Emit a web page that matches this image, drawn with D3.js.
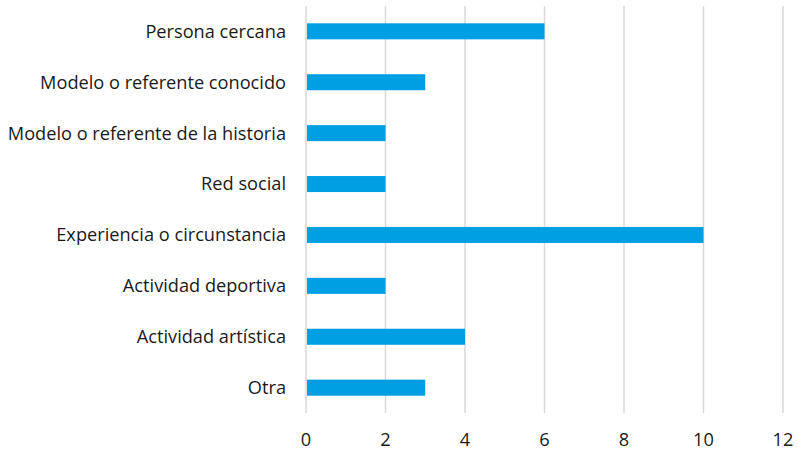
<!DOCTYPE html>
<html><head><meta charset="utf-8">
<script src="https://cdn.jsdelivr.net/npm/d3@7"></script>
<style>body{margin:0;background:#fff}svg{display:block}text{font-family:"Open Sans",sans-serif;fill:#1a1a1a}</style>
</head><body>
<svg id="c" width="798" height="453"></svg>
<script>
const categories = ["Persona cercana","Modelo o referente conocido","Modelo o referente de la historia","Red social","Experiencia o circunstancia","Actividad deportiva","Actividad artística","Otra"];
const values = [6,3,2,2,10,2,4,3];
const tickValues = [0,2,4,6,8,10,12];

const svg = d3.select("#c");
const x = d3.scaleLinear().domain([0,12]).range([306,783]);
const y = d3.scaleBand().domain(categories).range([6,413]).paddingInner(0.685).paddingOuter(0.34);

svg.append("g").selectAll("line").data(tickValues).join("line")
  .attr("x1",d=>x(d)).attr("x2",d=>x(d)).attr("y1",6).attr("y2",413)
  .attr("stroke","#d9d9d9").attr("stroke-width",1.5);

svg.append("g").selectAll("rect").data(values).join("rect")
  .attr("x",x(0)+1).attr("y",(d,i)=>y(categories[i]))
  .attr("width",d=>x(d)-x(0)-1).attr("height",y.bandwidth())
  .attr("fill","#009fe3");

svg.append("g").selectAll("text").data(categories).join("text")
  .attr("x",286).attr("y",d=>y(d)+y.bandwidth()/2).attr("dy","0.35em")
  .attr("text-anchor","end").attr("font-size",18.2).text(d=>d);

svg.append("g").selectAll("text").data(tickValues).join("text")
  .attr("x",d=>x(d)).attr("y",440).attr("dy","0.35em")
  .attr("text-anchor","middle").attr("font-size",18.2).text(d=>d);
</script>
</body></html>
